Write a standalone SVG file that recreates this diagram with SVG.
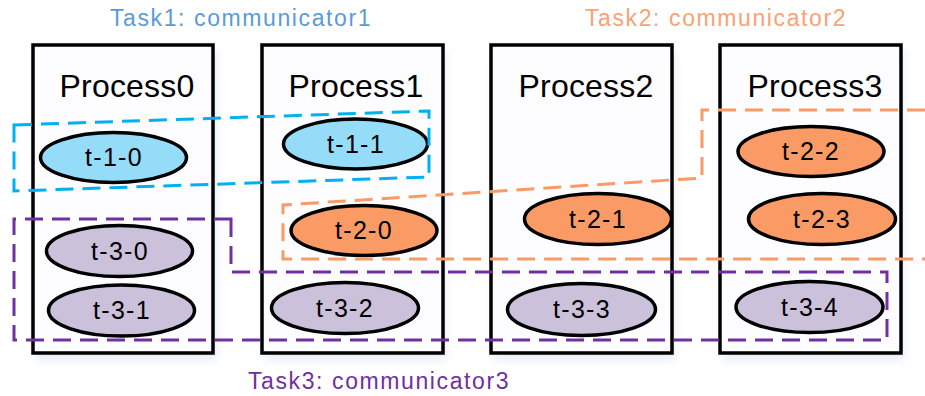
<svg xmlns="http://www.w3.org/2000/svg" width="925" height="396" viewBox="0 0 925 396">
  <defs>
    <filter id="soft" x="-20%" y="-20%" width="140%" height="140%">
      <feGaussianBlur stdDeviation="4"/>
    </filter>
  </defs>
  <style>
    .shadow { fill: #e8edf6; filter: url(#soft); }
    .proc { fill: #fdfdff; stroke: #000; stroke-width: 3.5; }
    .ptitle { font-family: "Liberation Sans", Arial, sans-serif; font-size: 32px; fill: #000; text-anchor: middle; letter-spacing: 0.2px; }
    .task { stroke: #000; stroke-width: 3.5; }
    .t1 { fill: #95dcf8; }
    .t2 { fill: #fa9a65; }
    .t3 { fill: #cbc1db; }
    .tlabel { font-family: "Liberation Sans", Arial, sans-serif; font-size: 25px; fill: #000; text-anchor: middle; letter-spacing: 1.3px; }
    .comm { fill: none; stroke-width: 3; stroke-dasharray: 18 9; }
    .cap { font-family: "Liberation Sans", Arial, sans-serif; font-size: 23px; letter-spacing: 1.6px; }
  </style>

  <!-- communicator captions -->
  <text class="cap" x="110" y="26" fill="#5b9bd5">Task1: communicator1</text>
  <text class="cap" x="585" y="26" fill="#f9a273">Task2: communicator2</text>
  <text class="cap" x="248" y="389" fill="#7030a0">Task3: communicator3</text>

  <!-- process boxes -->
  <g id="process0">
    <rect class="shadow" x="35" y="50" width="182" height="310"/>
    <rect class="proc" x="33" y="45" width="180" height="308"/>
    <text class="ptitle" x="127" y="97">Process0</text>
  </g>
  <g id="process1">
    <rect class="shadow" x="264" y="50" width="182" height="310"/>
    <rect class="proc" x="262" y="45" width="181" height="308"/>
    <text class="ptitle" x="356" y="97">Process1</text>
  </g>
  <g id="process2">
    <rect class="shadow" x="493" y="50" width="182" height="310"/>
    <rect class="proc" x="491" y="45" width="181" height="308"/>
    <text class="ptitle" x="586" y="97">Process2</text>
  </g>
  <g id="process3">
    <rect class="shadow" x="722" y="50" width="182" height="310"/>
    <rect class="proc" x="720" y="45" width="181" height="308"/>
    <text class="ptitle" x="815" y="97">Process3</text>
  </g>

  <!-- tasks -->
  <g id="t-1-0"><ellipse class="task t1" cx="113.5" cy="157.5" rx="73" ry="25"/><text class="tlabel" x="114" y="166">t-1-0</text></g>
  <g id="t-1-1"><ellipse class="task t1" cx="355.5" cy="144" rx="72" ry="25"/><text class="tlabel" x="356" y="153">t-1-1</text></g>
  <g id="t-2-0"><ellipse class="task t2" cx="364" cy="230.5" rx="73" ry="25"/><text class="tlabel" x="364" y="239">t-2-0</text></g>
  <g id="t-2-1"><ellipse class="task t2" cx="598" cy="219" rx="73.5" ry="25.5"/><text class="tlabel" x="598" y="228">t-2-1</text></g>
  <g id="t-2-2"><ellipse class="task t2" cx="811" cy="151.5" rx="73" ry="25"/><text class="tlabel" x="811" y="160">t-2-2</text></g>
  <g id="t-2-3"><ellipse class="task t2" cx="822" cy="219" rx="73.5" ry="25.5"/><text class="tlabel" x="822" y="228">t-2-3</text></g>
  <g id="t-3-0"><ellipse class="task t3" cx="119.5" cy="251" rx="73" ry="25.5"/><text class="tlabel" x="120" y="260">t-3-0</text></g>
  <g id="t-3-1"><ellipse class="task t3" cx="121.5" cy="310.5" rx="73" ry="25.5"/><text class="tlabel" x="122" y="319">t-3-1</text></g>
  <g id="t-3-2"><ellipse class="task t3" cx="345" cy="308" rx="73.5" ry="25.5"/><text class="tlabel" x="345" y="317">t-3-2</text></g>
  <g id="t-3-3"><ellipse class="task t3" cx="581.5" cy="309.5" rx="74" ry="26"/><text class="tlabel" x="582" y="318">t-3-3</text></g>
  <g id="t-3-4"><ellipse class="task t3" cx="809.5" cy="307" rx="73.5" ry="25.5"/><text class="tlabel" x="810" y="316">t-3-4</text></g>

  <!-- communicator outlines -->
  <g id="communicators">
    <path class="comm" stroke="#00b0f0" d="M14,125 L429,111 L429,177 L14,191 Z"/>
    <path class="comm" stroke="#fa9a65" d="M925,110 L702,110 L702,178 L283,205 L283,259 L925,259"/>
    <path class="comm" stroke="#7030a0" d="M231,219 L231,272 L887,272 L887,340 L14,340 L14,219 Z"/>
  </g>
</svg>
